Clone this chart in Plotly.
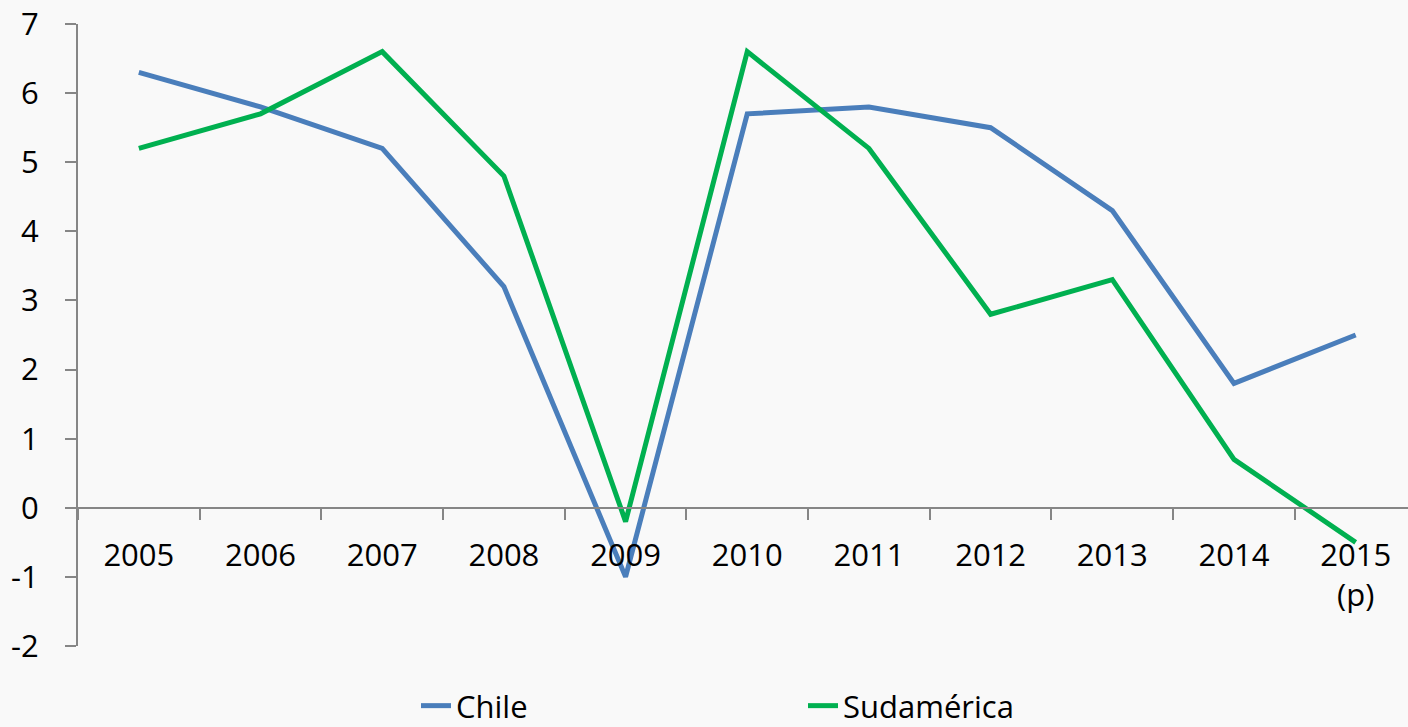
import plotly.graph_objects as go

years = ["2005", "2006", "2007", "2008", "2009", "2010", "2011", "2012", "2013", "2014", "2015<br>(p)"]
chile = [6.3, 5.8, 5.2, 3.2, -1.0, 5.7, 5.8, 5.5, 4.3, 1.8, 2.5]
sudamerica = [5.2, 5.7, 6.6, 4.8, -0.2, 6.6, 5.2, 2.8, 3.3, 0.7, -0.5]
y_ticks = [-2, -1, 0, 1, 2, 3, 4, 5, 6, 7]
y_labels = ["-2", "-1", "0", "1", "2", "3", "4", "5", "6", "7"]

FONT = "Open Sans"
AX = "#868686"
FS = 31
BG = "#f9f9f9"

fig = go.Figure()
fig.add_trace(go.Scatter(x=years, y=chile, name="Chile", mode="lines",
                         line=dict(color="#4a7ebb", width=5)))
fig.add_trace(go.Scatter(x=years, y=sudamerica, name="Sudamérica", mode="lines",
                         line=dict(color="#00b050", width=5)))

ymin, ymax = -2, 7
fig.update_layout(
    width=1408, height=727,
    margin=dict(l=78, r=0, t=24, b=81, autoexpand=False),
    paper_bgcolor=BG, plot_bgcolor=BG,
    font=dict(family=FONT, size=FS, color="#000000"),
    showlegend=True,
    legend=dict(orientation="h", x=416 / 1408, xanchor="left", xref="container",
                y=-60 / 622, yanchor="middle", yref="paper",
                font=dict(family=FONT, size=FS), entrywidth=342, entrywidthmode="pixels",
                bgcolor="rgba(0,0,0,0)", itemwidth=30),
    xaxis=dict(type="category", range=[-0.5, 10.43], anchor="free",
               position=(0 - ymin) / (ymax - ymin),
               showline=True, linecolor=AX, linewidth=2,
               ticks="outside", tickson="boundaries", ticklen=11, tickcolor=AX, tickwidth=2,
               showgrid=False, zeroline=False, tickfont=dict(family=FONT, size=FS),
               ticklabelstandoff=20),
    yaxis=dict(range=[ymin, ymax], tickvals=y_ticks, ticktext=y_labels,
               showline=True, linecolor=AX, linewidth=2,
               ticks="outside", ticklen=11, tickcolor=AX, tickwidth=2,
               showgrid=False, zeroline=False, tickfont=dict(family=FONT, size=FS),
               ticklabelstandoff=20),
)

fig.write_html(
    "out.html",
    config={"displayModeBar": False},
    post_script="document.body.style.margin='0';document.body.style.overflow='hidden';"
                "document.body.style.background='%s';" % BG,
)
